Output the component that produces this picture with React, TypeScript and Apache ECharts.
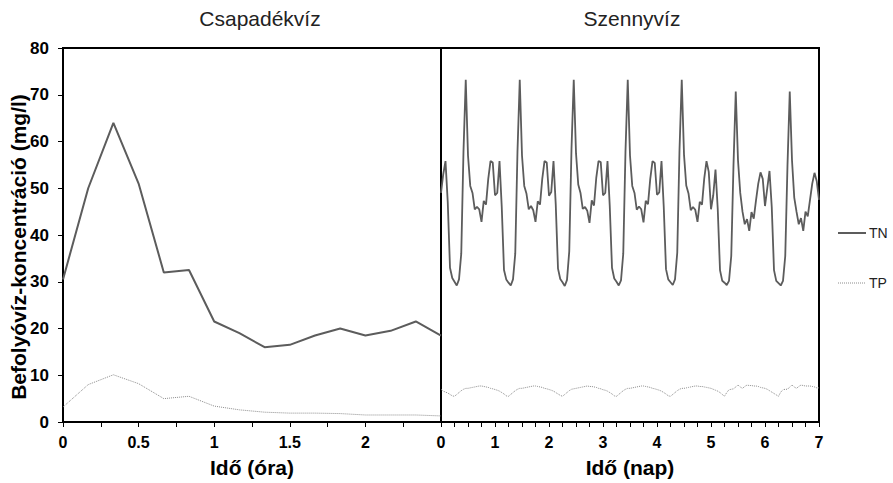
import React, { useEffect, useRef } from "react";
import * as echarts from "echarts";

// ---- Left panel: Csapadékvíz (hours) ----
const leftHours = [0, 0.1667, 0.3333, 0.5, 0.6667, 0.8333, 1, 1.1667, 1.3333, 1.5, 1.6667, 1.8333, 2, 2.1667, 2.3333, 2.5];
const leftTN = [30.5, 50, 64, 51, 32, 32.5, 21.5, 19, 16, 16.5, 18.5, 20, 18.5, 19.5, 21.5, 18.5];
const leftTP = [3.2, 8, 10.1, 8.2, 5, 5.5, 3.4, 2.6, 2.1, 1.9, 1.9, 1.8, 1.5, 1.5, 1.5, 1.3];
const leftTicks = ["0", "0.5", "1", "1.5", "2"];

// ---- Right panel: Szennyvíz (days, hourly values) ----
const tnDay0 = [49, 53, 55.8, 47, 33, 30.8, 30, 29.2, 30.5, 36, 58, 73.2, 57, 50.5, 49, 45.5, 46, 45.5, 42.8, 47.3, 46.5, 52, 55.8, 55.5];
const tnDay1 = [48.5, 49, 55.8, 46, 32.5, 30.5, 29.8, 29.2, 30.5, 36, 58, 73.2, 57, 50.5, 48.8, 45.5, 46.2, 45.3, 42.8, 47.2, 46.5, 52, 55.8, 55.5];
const tnDay2 = [48.4, 49.2, 55.8, 46.5, 32.8, 30.6, 29.9, 29.1, 30.4, 36.5, 58.5, 73.2, 57.5, 50.8, 49, 45.6, 46, 45.2, 42.6, 47.4, 46.3, 52.2, 55.8, 55.6];
const tnDay3 = [48.5, 49, 55.8, 46.2, 33, 30.7, 30, 29.2, 30.3, 36, 58, 73.2, 57, 50.5, 49, 45.4, 46.1, 45.5, 42.7, 47.3, 46.6, 52, 55.8, 55.4];
const tnDay4 = [48.6, 49.1, 55.8, 46, 32.7, 30.5, 29.9, 29.3, 30.5, 36.2, 58.2, 73.2, 57.2, 50.6, 48.9, 45.3, 46, 45.4, 42.8, 47.1, 46.5, 52.1, 55.8, 53.5];
const tnDay5 = [45.5, 48.5, 54, 45.5, 32.5, 30.2, 29.8, 29.3, 30.2, 35.5, 55, 70.7, 56, 49, 45, 42.3, 43.4, 40.9, 44.9, 43.5, 47.4, 51, 53.4, 52];
const tnDay6 = [46.2, 50, 53.7, 46, 32.5, 30.2, 29.7, 29.2, 30.2, 35.5, 55, 70.7, 56, 48, 45, 42.3, 43.6, 40.9, 45, 44, 47.5, 51, 53.3, 51.5];
const tnEnd = [47.5];

const tpDay0 = [7.0, 6.6, 6.4, 6.2, 5.9, 5.6, 5.5, 5.9, 6.3, 6.7, 7.0, 7.2, 7.2, 7.3, 7.4, 7.5, 7.6, 7.7, 7.7, 7.6, 7.5, 7.4, 7.2, 7.1];
const tpDay1 = [6.95, 6.8, 6.6, 6.3, 6.0, 5.6, 5.5, 5.9, 6.3, 6.7, 7.0, 7.2, 7.2, 7.3, 7.4, 7.5, 7.6, 7.7, 7.7, 7.6, 7.5, 7.4, 7.2, 7.1];
const tpDay2 = [6.95, 6.8, 6.6, 6.3, 6.0, 5.7, 5.5, 5.9, 6.3, 6.7, 7.0, 7.1, 7.2, 7.3, 7.4, 7.5, 7.6, 7.7, 7.6, 7.6, 7.5, 7.4, 7.2, 7.1];
const tpDay3 = [6.9, 6.8, 6.6, 6.3, 6.0, 5.6, 5.5, 5.9, 6.3, 6.7, 7.0, 7.2, 7.2, 7.3, 7.4, 7.5, 7.6, 7.7, 7.7, 7.6, 7.5, 7.4, 7.2, 7.1];
const tpDay4 = [6.95, 6.8, 6.6, 6.3, 6.0, 5.6, 5.5, 5.9, 6.3, 6.7, 7.0, 7.2, 7.2, 7.3, 7.4, 7.5, 7.6, 7.7, 7.7, 7.6, 7.6, 7.5, 7.4, 7.3];
const tpDay5 = [7.2, 7.0, 6.8, 6.6, 6.3, 5.9, 5.5, 6.3, 6.9, 7.0, 7.1, 7.5, 7.9, 7.5, 7.2, 7.6, 7.9, 7.8, 7.8, 7.7, 7.7, 7.6, 7.4, 7.3];
const tpDay6 = [7.2, 7.0, 6.7, 6.4, 6.1, 5.8, 5.5, 6.4, 6.9, 7.0, 7.0, 7.5, 7.9, 7.5, 7.2, 7.6, 7.9, 7.8, 7.7, 7.7, 7.7, 7.6, 7.5, 7.3];
const tpEnd = [7.3];

const HOURS_PER_DAY = 24;

const titleLeft = "Csapadékvíz";
const titleRight = "Szennyvíz";
const yName = "Befolyóvíz-koncentráció (mg/l)";
const xNameLeft = "Idő (óra)";
const xNameRight = "Idő (nap)";
const legendNames = ["TN", "TP"];

const FONT = "'Liberation Sans', Arial, Helvetica, sans-serif";

function toPairs(values: number[], step: number): [number, number][] {
  return values.map((v, i) => [i / step, v]);
}

export default function App() {
  const ref = useRef<HTMLDivElement>(null);

  useEffect(() => {
    if (!ref.current) return;
    const chart = echarts.init(ref.current, undefined, { renderer: "svg" });

    const rightTN = toPairs(
      [...tnDay0, ...tnDay1, ...tnDay2, ...tnDay3, ...tnDay4, ...tnDay5, ...tnDay6, ...tnEnd],
      HOURS_PER_DAY
    );
    const rightTP = toPairs(
      [...tpDay0, ...tpDay1, ...tpDay2, ...tpDay3, ...tpDay4, ...tpDay5, ...tpDay6, ...tpEnd],
      HOURS_PER_DAY
    );
    const leftTNPairs = leftHours.map((h, i) => [h, leftTN[i]]);
    const leftTPPairs = leftHours.map((h, i) => [h, leftTP[i]]);

    const tnColor = "#5c5c5c";
    const tpColor = "#8c8c8c";

    const axisLine = { show: true, lineStyle: { color: "#000", width: 2 } };
    const tickStyle = { color: "#000", width: 1 };
    const labelStyle = { fontWeight: "bold" as const, fontSize: 16, color: "#000", fontFamily: FONT };
    const nameStyle = { fontWeight: "bold" as const, fontSize: 21, color: "#000", fontFamily: FONT };

    chart.setOption({
      animation: false,
      backgroundColor: "#fff",
      textStyle: { fontFamily: FONT },
      graphic: [
        {
          type: "text",
          x: 260,
          y: 18,
          style: { text: titleLeft, align: "center", verticalAlign: "middle", fontSize: 21, fill: "#222", fontFamily: FONT },
        },
        {
          type: "text",
          x: 632,
          y: 18,
          style: { text: titleRight, align: "center", verticalAlign: "middle", fontSize: 21, fill: "#222", fontFamily: FONT },
        },
        {
          type: "text",
          x: 18,
          y: 247,
          rotation: Math.PI / 2,
          style: { text: yName, align: "center", verticalAlign: "middle", fontSize: 21, fontWeight: "bold", fill: "#000", fontFamily: FONT },
        },
        {
          type: "line",
          shape: { x1: 838, y1: 233, x2: 866, y2: 233 },
          style: { stroke: tnColor, lineWidth: 2 },
        },
        {
          type: "text",
          x: 869,
          y: 233,
          style: { text: legendNames[0], align: "left", verticalAlign: "middle", fontSize: 14, fill: "#222", fontFamily: FONT },
        },
        {
          type: "line",
          shape: { x1: 838, y1: 283, x2: 866, y2: 283 },
          style: { stroke: tpColor, lineWidth: 1, lineDash: [1, 1] },
        },
        {
          type: "text",
          x: 869,
          y: 283,
          style: { text: legendNames[1], align: "left", verticalAlign: "middle", fontSize: 14, fill: "#222", fontFamily: FONT },
        },
      ],
      grid: [
        { left: 63, top: 48, width: 378, height: 376, show: true, borderColor: "#000", borderWidth: 2, backgroundColor: "transparent" },
        { left: 441, top: 48, width: 378, height: 376, show: true, borderColor: "#000", borderWidth: 2, backgroundColor: "transparent" },
      ],
      xAxis: [
        {
          gridIndex: 0,
          type: "value",
          min: 0,
          max: 2.5,
          interval: 0.5,
          axisLine,
          axisTick: { show: true, length: 5, lineStyle: tickStyle },
          minorTick: { show: true, splitNumber: 2, length: 5, lineStyle: tickStyle },
          splitLine: { show: false },
          axisLabel: {
            ...labelStyle,
            margin: 12,
            formatter: (v: number) => {
              const s = String(v);
              return leftTicks.includes(s) ? s : "";
            },
          },
          name: xNameLeft,
          nameLocation: "middle",
          nameGap: 35,
          nameTextStyle: nameStyle,
        },
        {
          gridIndex: 1,
          type: "value",
          min: 0,
          max: 7,
          interval: 1,
          axisLine,
          axisTick: { show: true, length: 5, lineStyle: tickStyle },
          minorTick: { show: true, splitNumber: 4, length: 5, lineStyle: tickStyle },
          splitLine: { show: false },
          axisLabel: { ...labelStyle, margin: 12 },
          name: xNameRight,
          nameLocation: "middle",
          nameGap: 35,
          nameTextStyle: nameStyle,
        },
      ],
      yAxis: [
        {
          gridIndex: 0,
          type: "value",
          min: 0,
          max: 80,
          interval: 10,
          axisLine,
          axisTick: { show: true, length: 5, lineStyle: tickStyle },
          splitLine: { show: false },
          axisLabel: { ...labelStyle, fontSize: 17, margin: 14 },
        },
        {
          gridIndex: 1,
          type: "value",
          min: 0,
          max: 80,
          interval: 10,
          axisLine,
          axisTick: { show: false },
          axisLabel: { show: false },
          splitLine: { show: false },
        },
      ],
      series: [
        {
          type: "line",
          name: "TN",
          xAxisIndex: 0,
          yAxisIndex: 0,
          data: leftTNPairs,
          symbol: "none",
          lineStyle: { color: tnColor, width: 2 },
          itemStyle: { color: tnColor },
        },
        {
          type: "line",
          name: "TP",
          xAxisIndex: 0,
          yAxisIndex: 0,
          data: leftTPPairs,
          symbol: "none",
          lineStyle: { color: tpColor, width: 1, type: "dotted" },
          itemStyle: { color: tpColor },
        },
        {
          type: "line",
          name: "TN",
          xAxisIndex: 1,
          yAxisIndex: 1,
          data: rightTN,
          symbol: "none",
          lineStyle: { color: tnColor, width: 1.8 },
          itemStyle: { color: tnColor },
        },
        {
          type: "line",
          name: "TP",
          xAxisIndex: 1,
          yAxisIndex: 1,
          data: rightTP,
          symbol: "none",
          lineStyle: { color: tpColor, width: 1, type: "dotted" },
          itemStyle: { color: tpColor },
        },
      ],
    });

    return () => chart.dispose();
  }, []);

  return (
    <div
      ref={ref}
      style={{ position: "fixed", left: 0, top: 0, width: 893, height: 483, background: "#fff" }}
    />
  );
}
